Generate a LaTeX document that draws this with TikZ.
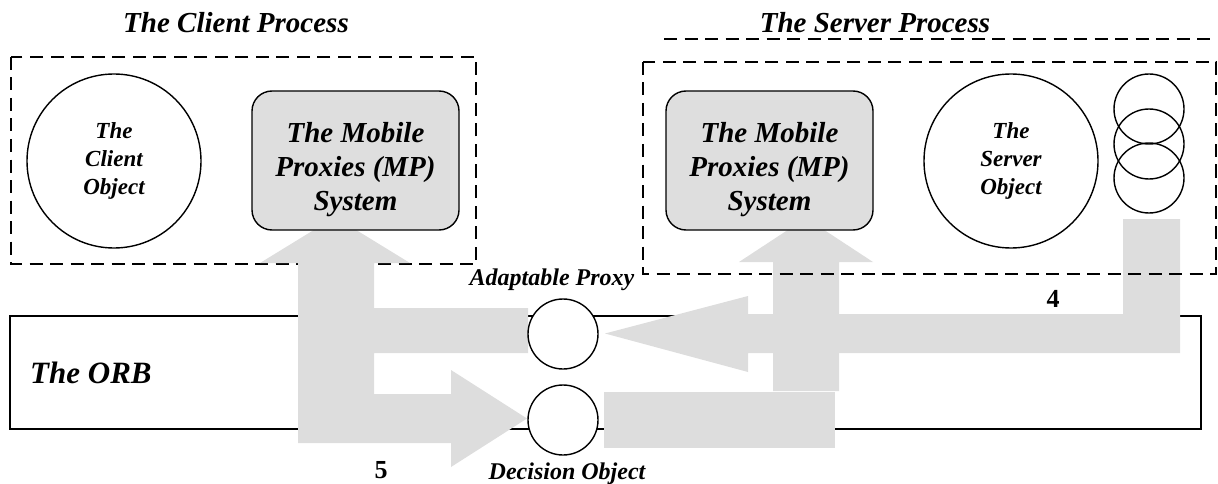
\documentclass[tikz,border=0pt]{standalone}
\usepackage{fontspec}
\setmainfont{Liberation Serif}
\definecolor{flowgray}{RGB}{221,221,221}
\definecolor{mpgray}{RGB}{222,222,222}
\begin{document}
\begin{tikzpicture}[x=1pt,y=-1pt,
  dashbox/.style={draw, line width=2.2pt, dash pattern=on 13pt off 7.5pt},
  flow/.style={fill=flowgray},
  mpbox/.style={draw, line width=1.4pt, fill=mpgray, rounded corners=20pt,
    minimum width=207pt, minimum height=139pt, inner sep=0pt},
  mptext/.style={align=center, inner sep=0pt,
    font=\bfseries\itshape\fontsize{29pt}{34pt}\selectfont},
  bigobj/.style={draw, circle, line width=1.4pt, minimum size=174pt, inner sep=0pt,
    align=center, font=\bfseries\itshape\fontsize{23pt}{28pt}\selectfont},
  port/.style={draw, circle, line width=1.4pt, fill=white, minimum size=70pt, inner sep=0pt},
  ring/.style={draw, circle, line width=1.4pt, minimum size=70pt, inner sep=0pt},
  title/.style={font=\bfseries\itshape\fontsize{29pt}{34pt}\selectfont, inner sep=0pt, anchor=base},
  caption/.style={font=\bfseries\itshape\fontsize{24pt}{28pt}\selectfont, inner sep=0pt, anchor=base},
  numlabel/.style={font=\bfseries\fontsize{26pt}{30pt}\selectfont, inner sep=0pt, anchor=base}
]
\useasboundingbox (0,0) rectangle (1218,484);

% client process frame and the ORB bus
\draw[dashbox] (11,57) rectangle (476,264);
\draw[line width=1.5pt] (10,316) rectangle (1201,429);

% flows through the ORB
\fill[flow] (298,443) -- (298,263) -- (260,263) -- (335,217) -- (410,263) -- (374,263)
  -- (374,308) -- (528,308) -- (528,353) -- (374,353) -- (374,394) -- (451,394)
  -- (451,370) -- (527,418.5) -- (451,467) -- (451,443) -- cycle;
\fill[flow] (1123,219) -- (1180,219) -- (1180,353) -- (748,353) -- (748,372)
  -- (605,333.5) -- (748,296) -- (748,314) -- (1123,314) -- cycle;
\fill[flow] (773,391) -- (773,262) -- (739,262) -- (806,218) -- (873,262)
  -- (839,262) -- (839,391) -- cycle;
\fill[flow] (604,392) rectangle (835,448);

% server process frame and title rule
\draw[dashbox] (643,62) rectangle (1216,274);
\draw[dashbox] (664,39) -- (1216,39);

% mobile proxies systems
\node[mpbox] (cmp) at (355.5,160.5) {};
\node[mptext] (cmptext) at (355.5,170) {The Mobile\\Proxies (MP)\\System};
\node[mpbox] (smp) at (769.5,160.5) {};
\node[mptext] (smptext) at (769.5,170) {The Mobile\\Proxies (MP)\\System};

% objects
\node[bigobj] (cobj) at (114,161) {The\\Client\\Object};
\node[bigobj] (sobj) at (1011,161) {The\\Server\\Object};
\node[ring] (r1) at (1149,109) {};
\node[ring] (r2) at (1149,144) {};
\node[ring] (r3) at (1149,178) {};
\node[port] (aproxy) at (563,334) {};
\node[port] (dobj) at (563,420) {};

% labels
\node[title] (ctitle) at (236,33) {The Client Process};
\node[title] (stitle) at (875,33) {The Server Process};
\node[font=\bfseries\itshape\fontsize{31pt}{36pt}\selectfont, inner sep=0pt, anchor=base west]
  (orb) at (30,383) {The ORB};
\node[caption] (alabel) at (552,285) {Adaptable Proxy};
\node[caption] (dlabel) at (567,479) {Decision Object};
\node[numlabel] (n4) at (1053,307) {4};
\node[numlabel] (n5) at (381,478) {5};
\end{tikzpicture}
\end{document}
